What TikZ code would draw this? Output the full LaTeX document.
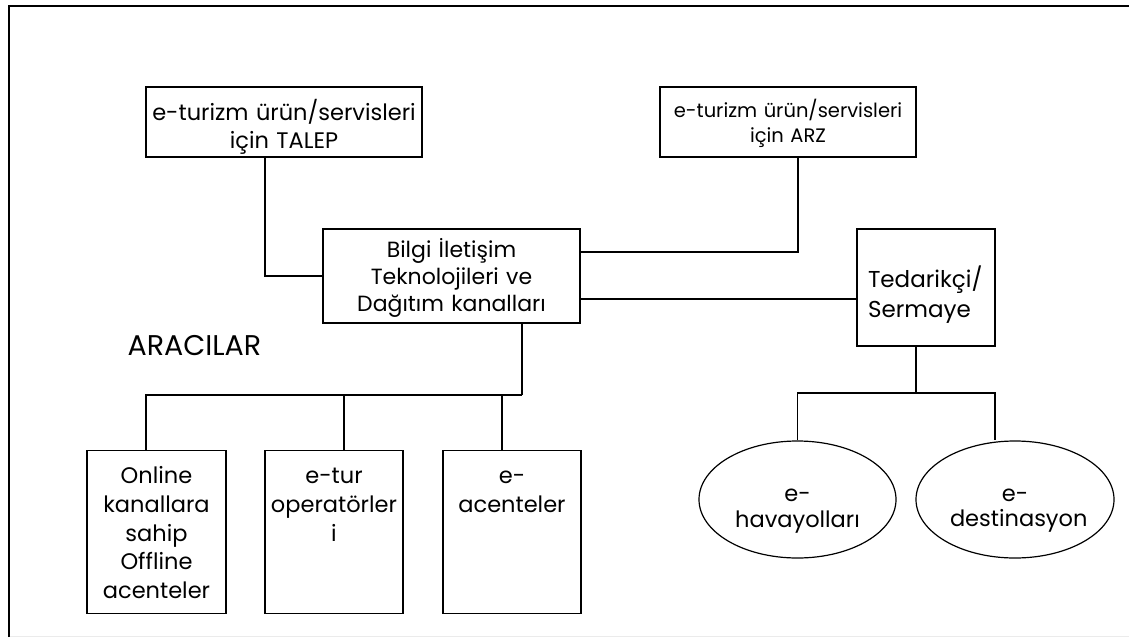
\documentclass[tikz,border=0pt]{standalone}
\usepackage{fontspec}
\setmainfont{Poppins}
\usetikzlibrary{shapes.geometric}

\begin{document}
\begin{tikzpicture}[x=1pt,y=-1pt]
\useasboundingbox (0,0) rectangle (1129,637);
\draw [line width=2pt] (8.5,637) -- (8.5,6) -- (1129,6);
\draw [black!8] (9.5,636) -- (1129,636);

\begin{scope}[every node/.style={rectangle,draw,line width=1.2pt,align=center,inner sep=0pt}]
    \node [text width=276, minimum height=70, text height=16, text depth=20, font=\fontsize{22.5}{28}\selectfont] (talep) at (284,122) {e-turizm ürün/servisleri\\için TALEP};
    \node [text width=256, minimum height=70, text height=10, text depth=20, font=\fontsize{19.5}{25}\selectfont] (arz) at (788,122) {e-turizm ürün/servisleri\\için ARZ};
    \node [text width=257, minimum height=94, text height=2, text depth=40, font=\fontsize{22}{27}\selectfont] (bilgi) at (451.5,276) {Bilgi İletişim\\Teknolojileri ve\\Dağıtım kanalları};
    \node [minimum width=138, minimum height=117, text width=116, align=left, text height=20, text depth=20, font=\fontsize{23}{30}\selectfont] (tedarik) at (926,287.5) {Tedarikçi/\\Sermaye};

    \node [anchor=north, text width=139, text height=33, text depth=130, font=\fontsize{22.5}{28.7}\selectfont] (online) at (156.5,450) {Online\\kanallara\\sahip\\Offline\\acenteler};
    \node [anchor=north, text width=138, text height=33, text depth=130, font=\fontsize{22.5}{28.7}\selectfont] (etur) at (334,450) {e-tur\\operatörler\\i};
    \node [anchor=north, text width=138, text height=33, text depth=130, font=\fontsize{22.5}{28.7}\selectfont] (eacente) at (512,450) {e-\\acenteler};

    \node [ellipse, text width=130, minimum width=197, minimum height=117, text height=23, text depth=20, font=\fontsize{22.5}{26}\selectfont] (hava) at (797.5,499.5) {e-\\havayolları};
    \node [ellipse, text width=130, minimum width=198, minimum height=117, text height=23, text depth=20, font=\fontsize{22.5}{25}\selectfont] (dest) at (1015,499.5) {e-\\destinasyon};

    \node [draw=none, anchor=base west, font=\fontsize{28.5}{30}\selectfont] (aracilar) at (127,355) {ARACILAR};
\end{scope}

\begin{scope}[line width=1.2pt]
    \coordinate (asplit) at (522,395);
    \coordinate (tsplit) at (916,393);

    \draw ([xshift=-19pt]talep.south) |- (bilgi.west);
    \draw ([yshift=24pt]bilgi.east) -| ([xshift=10pt]arz.south);
    \draw ([yshift=-23pt]bilgi.east) -- ([yshift=-23pt]bilgi.east -| tedarik.west);

    \draw ([xshift=70.5pt]bilgi.south) -- (asplit);
    \draw (asplit) -| ([xshift=-10.5pt]online.north);
    \draw ([xshift=10pt]etur.north) -- ([xshift=10pt]etur.north |- asplit);
    \draw ([xshift=-10pt]eacente.north) -- ([xshift=-10pt]eacente.north |- asplit);

    \draw ([xshift=-10pt]tedarik.south) -- (tsplit);
    \draw (hava.north) |- (tsplit) -| ([xshift=-20pt]dest.north);
\end{scope}

\end{tikzpicture}
\end{document}
